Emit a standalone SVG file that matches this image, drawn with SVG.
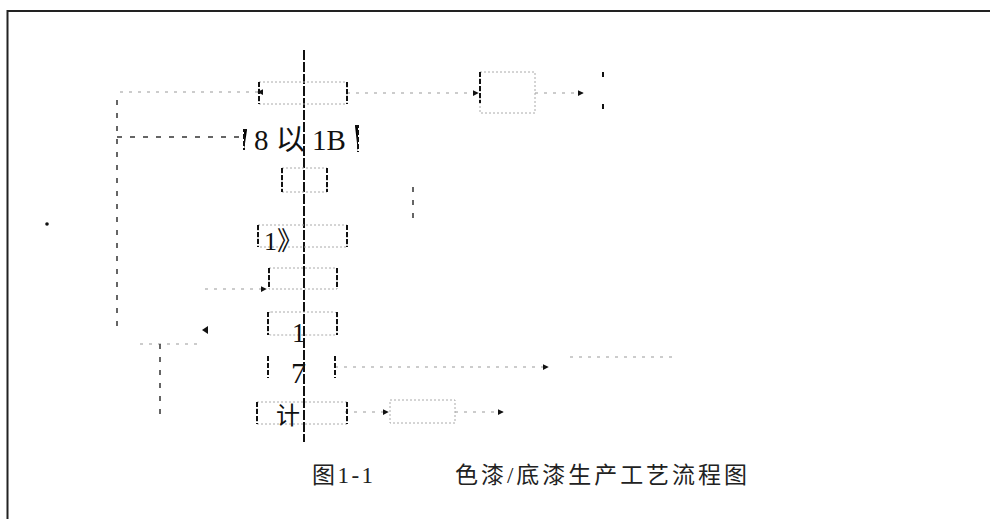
<svg xmlns="http://www.w3.org/2000/svg" width="990" height="519" viewBox="0 0 990 519">
<defs>
<marker id="ah" viewBox="0 0 8 8" refX="7" refY="4" markerWidth="6" markerHeight="6" orient="auto" markerUnits="userSpaceOnUse">
<path d="M0,0 L8,4 L0,8 Z" fill="#111"/>
</marker>
</defs>
<style>
.frame{fill:none;stroke:#222;stroke-width:2}
.box{fill:none;stroke:#aaa;stroke-width:1;stroke-dasharray:2 2}
.side{stroke:#111;stroke-width:2;stroke-dasharray:5 2}
.faint{fill:none;stroke:#999;stroke-width:1;stroke-dasharray:3 6}
.dash{fill:none;stroke:#333;stroke-width:1.5;stroke-dasharray:5 8}
.main{fill:none;stroke:#111;stroke-width:2;stroke-dasharray:10 2}
.lbl{font-family:"Liberation Serif","Noto Sans CJK SC",serif;fill:#111}
.cap{font-family:"Liberation Serif","Noto Sans CJK SC",serif;fill:#222;font-size:23px}
</style>
<rect width="990" height="519" fill="#fff"/>
<path class="frame" d="M7.5,519 V11 H990"/>

<g id="connectors">
<path class="main" d="M304,50 V442"/>
<path class="faint" d="M258,92 H117" marker-start="url(#ah)"/>
<path class="dash" d="M117,100 V333"/>
<path class="dash" d="M117,137 H243"/>
<path class="faint" d="M205,289 H266" marker-end="url(#ah)"/>
<path class="faint" d="M140,344 H200"/>
<path class="dash" d="M160,344 V420"/>
<path class="faint" d="M347,93 H478" marker-end="url(#ah)"/>
<path class="faint" d="M535,93 H583" marker-end="url(#ah)"/>
<path class="dash" d="M413,187 V222"/>
<path class="faint" d="M335,367 H476"/>
<path class="faint" d="M478,367 H548" marker-end="url(#ah)"/>
<path class="faint" d="M570,357 H672"/>
<path class="faint" d="M345,412 H388" marker-end="url(#ah)"/>
<path class="faint" d="M455,412 H503" marker-end="url(#ah)"/>
<path d="M208,326 L208,334 L202,330 Z" fill="#111"/>
<circle cx="47" cy="224" r="1.8" fill="#111"/>
</g>

<g id="n1">
<rect class="box" x="259" y="82" width="88" height="22"/>
<path class="side" d="M259,82 V104 M347,82 V104"/>
</g>
<g id="n2">
<path class="side" d="M247,130 H244 V150 M355,126 H358 V152"/>
<text class="lbl" x="254" y="150" font-size="29">8 以 1B</text>
</g>
<g id="n3">
<rect class="box" x="282" y="168" width="45" height="24"/>
<path class="side" d="M282,168 V192 M327,168 V192"/>
</g>
<g id="n4">
<rect class="box" x="258" y="225" width="89" height="22"/>
<path class="side" d="M258,225 V247 M347,225 V247"/>
<text class="lbl" x="264" y="250" font-size="26">1》</text>
</g>
<g id="n5">
<rect class="box" x="269" y="268" width="68" height="21"/>
<path class="side" d="M269,268 V289 M337,268 V289"/>
</g>
<g id="n6">
<rect class="box" x="268" y="312" width="69" height="23" rx="3"/>
<path class="side" d="M268,312 V335 M337,312 V335"/>
<text class="lbl" x="292" y="342" font-size="27">1</text>
</g>
<g id="n7">
<path class="side" d="M268,356 V378 M335,356 V378"/>
<text class="lbl" x="291" y="383" font-size="30">7</text>
</g>
<g id="n8">
<rect class="box" x="257" y="402" width="90" height="22"/>
<path class="side" d="M257,402 V424 M347,402 V424"/>
<text class="lbl" x="276" y="424" font-size="24">计</text>
</g>
<g id="r1">
<rect class="box" x="480" y="72" width="55" height="41"/>
<path class="side" d="M480,72 V103"/>
</g>
<g id="r2">
<path class="side" d="M603,72 V78 M603,104 V110"/>
</g>
<g id="r3">
<rect class="box" x="390" y="400" width="65" height="23"/>
</g>

<g id="caption">
<text class="cap" x="312" y="483" textLength="61" lengthAdjust="spacing">图1-1</text>
<text class="cap" x="455" y="483" textLength="292" lengthAdjust="spacing">色漆/底漆生产工艺流程图</text>
</g>
</svg>
